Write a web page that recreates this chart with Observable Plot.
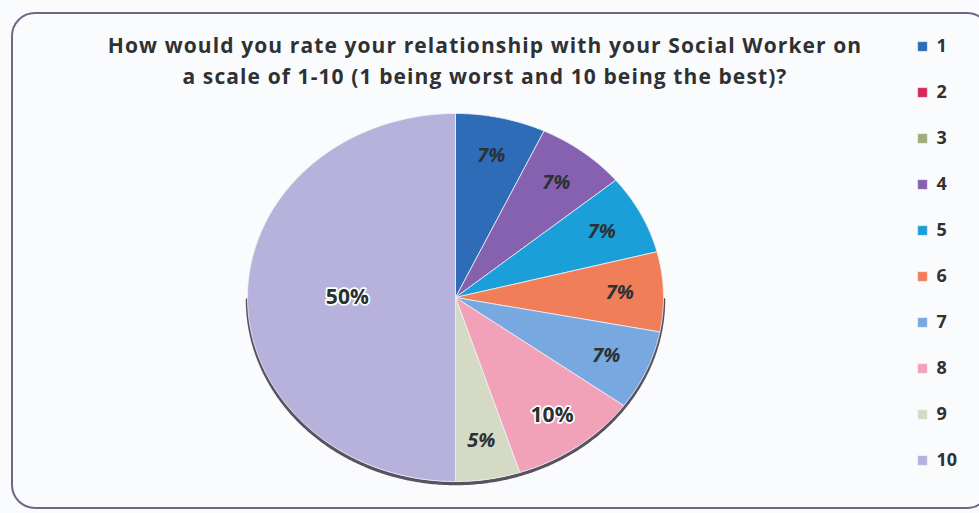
<!DOCTYPE html>
<html>
<head>
<meta charset="utf-8">
<script src="https://cdn.jsdelivr.net/npm/d3@7"></script>
<script src="https://cdn.jsdelivr.net/npm/@observablehq/plot@0.6"></script>
<style>
  html, body { margin: 0; padding: 0; background: #fafbfd; }
  #wrap { position: relative; width: 979px; height: 513px; overflow: hidden; background: #fafbfd; font-family: "Open Sans", Lato, sans-serif; }
  #frame { position: absolute; left: 11px; top: 12px; width: 980px; height: 497px; border: 2px solid #6f6688; border-radius: 24px; box-sizing: border-box; }
  #title { position: absolute; left: 35px; width: 900px; top: 30px; text-align: center; font-weight: 700; font-size: 21px; line-height: 31px; color: #2f3133; letter-spacing: 1.1px; white-space: nowrap; }
  .layer { position: absolute; left: 0; top: 0; }
</style>
</head>
<body>
<div id="wrap">
  <div id="frame"></div>
  <div id="title">How would you rate your relationship with your Social Worker on<br>a scale of 1-10 (1 being worst and 10 being the best)?</div>
  <div id="pie" class="layer"></div>
  <div id="legend" class="layer"></div>
</div>
<script>
// ---- data ----
const categories = ["1", "2", "3", "4", "5", "6", "7", "8", "9", "10"];
const percents   = [7, 0, 0, 7, 7, 7, 7, 10, 5, 50];
const labels     = ["7%", "", "", "7%", "7%", "7%", "7%", "10%", "5%", "50%"];
const colors     = ["#2e6cb8", "#d42a5a", "#a2ab80", "#8561b0", "#1a9fd8", "#f07e58", "#78a8e0", "#f2a2b8", "#d4dac4", "#b6b2dc"];

// ---- geometry derived from data ----
const rows = categories.map((c, i) => ({cat: c, value: percents[i], label: labels[i]}));
const arcs = d3.pie().sort(null).value(d => d.value)(rows);
const polys = [];
const texts = [];
for (const a of arcs) {
  if (a.data.value <= 0) continue;
  polys.push({cat: a.data.cat, x: 0, y: 0});
  const n = Math.max(2, Math.ceil((a.endAngle - a.startAngle) / 0.01));
  for (let k = 0; k <= n; k++) {
    const t = a.startAngle + (a.endAngle - a.startAngle) * k / n;
    polys.push({cat: a.data.cat, x: Math.sin(t), y: Math.cos(t)});
  }
  polys.push({cat: a.data.cat, x: 0, y: 0});
  const mid = (a.startAngle + a.endAngle) / 2;
  const r = a.data.value >= 40 ? 0.52 : 0.79;
  texts.push({cat: a.data.cat, label: a.data.label, x: r * Math.sin(mid), y: r * Math.cos(mid), small: a.data.value < 8});
}
// lower rim (3D shadow edge)
const rim = d3.range(0.5 * Math.PI, 1.5 * Math.PI, 0.01).map(t => ({x: Math.sin(t), y: Math.cos(t)}));

const W = 979, H = 513;

const pie = Plot.plot({
  width: W, height: H,
  style: {background: "transparent"},
  x: {domain: [-1, 1], range: [247, 663], axis: null},
  y: {domain: [-1, 1], range: [481, 113], axis: null},
  color: {domain: categories, range: colors},
  marks: [
    Plot.line(rim, {x: "x", y: "y", stroke: "#3b3545", strokeWidth: 3.5, dy: 2, strokeOpacity: 0.85}),
    Plot.line(polys, {x: "x", y: "y", z: "cat", fill: "cat", stroke: "#eef0f6", strokeWidth: 1, strokeOpacity: 0.8}),
    Plot.text(texts.filter(d => !d.small), {x: "x", y: "y", text: "label", fontSize: 21, fontWeight: "bold", fill: "#283030", stroke: "white", strokeWidth: 3.5, fontFamily: "Open Sans, sans-serif"}),
    Plot.text(texts.filter(d => d.small), {x: "x", y: "y", text: "label", fontSize: 20, fontWeight: "bold", fontStyle: "italic", fill: "#2a3236", fontFamily: "Open Sans, sans-serif"})
  ]
});
document.getElementById("pie").appendChild(pie);

const legend = Plot.plot({
  width: W, height: H,
  style: {background: "transparent"},
  x: {domain: [0, 1], range: [922, 936], axis: null},
  y: {type: "point", domain: categories, range: [43, 462], padding: 0, axis: null},
  color: {domain: categories, range: colors},
  marks: [
    Plot.dot(categories, {x: 0, y: d => d, symbol: "square", r: 5.5, fill: d => d, stroke: "#ffffff", strokeWidth: 0.5}),
    Plot.text(categories, {x: 1, y: d => d, text: d => d, textAnchor: "start", fontSize: 18, fontWeight: "bold", fill: "#2f3133", fontFamily: "Open Sans, sans-serif"})
  ]
});
document.getElementById("legend").appendChild(legend);
</script>
</body>
</html>
